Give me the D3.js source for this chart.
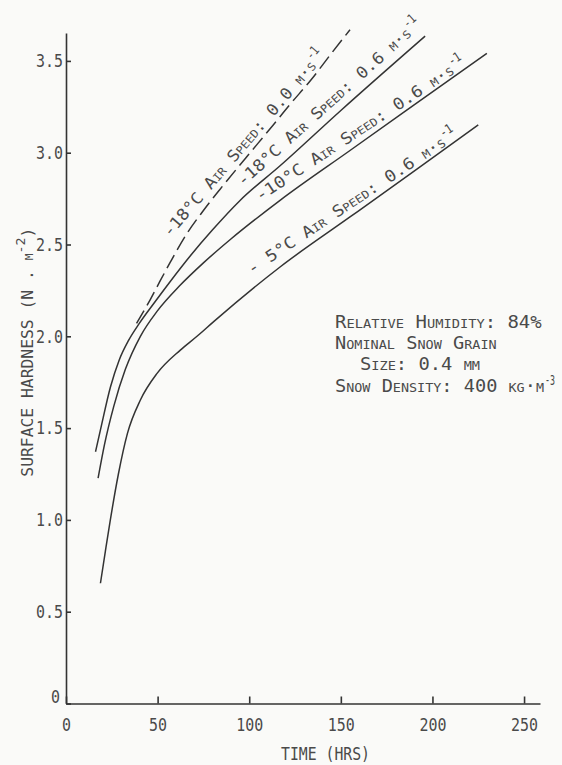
<!DOCTYPE html>
<html><head><meta charset="utf-8">
<script src="https://cdn.jsdelivr.net/npm/d3@7"></script>
<style>
html,body{margin:0;padding:0;background:#fafaf8;}
svg{display:block;}
text{font-family:"DejaVu Sans Mono","Liberation Mono",monospace;fill:#4a4a4a;}
</style></head><body>
<svg id="chart" width="562" height="765"></svg>
<script>
// ---------- data ----------
// -18 °C, air speed 0.0 m/s (dashed)
const timeD = [38.5, 46, 51.3, 57, 66, 75, 84, 98, 113, 122, 134, 144, 155];
const hardD = [2.07, 2.2, 2.30, 2.405, 2.56, 2.685, 2.80, 2.97, 3.15, 3.26, 3.40, 3.53, 3.67];
// -18 °C, air speed 0.6 m/s
const timeA = [16.1, 18.8, 24.3, 29, 34, 40, 48, 57, 68, 80, 95, 117, 150, 196];
const hardA = [1.371, 1.49, 1.725, 1.87, 1.975, 2.07, 2.18, 2.30, 2.44, 2.58, 2.74, 2.93, 3.23, 3.635];
// -10 °C, air speed 0.6 m/s
const timeB = [17.5, 21, 26.1, 32.4, 40.6, 50, 62, 75, 90, 117, 155, 190, 229.7];
const hardB = [1.227, 1.41, 1.62, 1.82, 2.0, 2.14, 2.275, 2.40, 2.53, 2.742, 3.012, 3.26, 3.541];
// -5 °C, air speed 0.6 m/s
const timeC = [18.8, 21.5, 24.2, 28.6, 33.5, 40.6, 49.7, 62.4, 71.5, 80.6, 117, 155, 190, 225];
const hardC = [0.655, 0.83, 1.0, 1.25, 1.47, 1.653, 1.798, 1.925, 2.0, 2.08, 2.379, 2.65, 2.90, 3.151];

const seriesLabels = ["-18°C Air Speed: 0.0 m·s", "-18°C Air Speed: 0.6 m·s", "-10°C Air Speed: 0.6 m·s", "- 5°C Air Speed: 0.6 m·s"];
const seriesLabelSup = ["-1", "-1", "-1", "-1"];
const xTicks = [0, 50, 100, 150, 200, 250];
const yTicks = [0, 0.5, 1.0, 1.5, 2.0, 2.5, 3.0, 3.5];
const xTitle = "TIME (HRS)";
const noteLines = ["Relative Humidity:  84%", "Nominal Snow Grain", "Size:  0.4 mm", "Snow Density:  400 kg·m"];
const noteSup = "-3";

// ---------- layout ----------
const svg = d3.select("#chart");
const x = d3.scaleLinear().domain([0, 258.7]).range([66, 540]);
const y = d3.scaleLinear().domain([0, 3.652]).range([703.5, 33]);
const ink = "#333";

// axes
const gx = svg.append("g").attr("transform", `translate(0,${y(0)})`)
  .call(d3.axisBottom(x).tickValues(xTicks).tickSize(-7).tickSizeOuter(0).tickPadding(15).tickFormat(d3.format("d")));
const gy = svg.append("g").attr("transform", `translate(${x(0)},0)`)
  .call(d3.axisLeft(y).tickValues(yTicks).tickSize(-5).tickSizeOuter(0).tickPadding(3)
    .tickFormat(d => d === 0 ? "0" : d3.format(".1f")(d)));
[gx, gy].forEach(g => {
  g.select(".domain").attr("stroke", ink).attr("stroke-width", 1.6);
  g.selectAll(".tick line").attr("stroke", ink).attr("stroke-width", 1.6);
  g.selectAll(".tick text").attr("font-size", 18).attr("fill", "#555")
    .style("font-family", '"DejaVu Sans Mono", monospace')
    .attr("lengthAdjust", "spacingAndGlyphs")
    .each(function () { d3.select(this).attr("textLength", this.textContent.length * 9); });
});
gy.selectAll(".tick text").filter(d => d === 0).attr("x", -6).attr("dy", "-0.05em");

// axis titles
svg.append("text").attr("x", 281).attr("y", 760).attr("font-size", 18)
  .attr("textLength", 89).attr("lengthAdjust", "spacingAndGlyphs").text(xTitle);
const yt = svg.append("text").attr("transform", "translate(33,476.7) rotate(-90)")
  .attr("font-size", 16).attr("textLength", 249).attr("lengthAdjust", "spacingAndGlyphs");
yt.append("tspan").text("SURFACE HARDNESS (N . ");
yt.append("tspan").style("font-variant", "small-caps").text("m");
yt.append("tspan").attr("dy", -8).attr("font-size", 13).text("-2");
yt.append("tspan").attr("dy", 8).text(")");

// curves
const line = d3.line().x(d => x(d[0])).y(d => y(d[1])).curve(d3.curveMonotoneX);
const series = [
  {t: timeD, v: hardD, dash: "15,6"},
  {t: timeA, v: hardA, dash: null},
  {t: timeB, v: hardB, dash: null},
  {t: timeC, v: hardC, dash: null}
];
series.forEach(s => {
  svg.append("path").datum(d3.zip(s.t, s.v)).attr("d", line)
    .attr("fill", "none").attr("stroke", ink).attr("stroke-width", 1.5)
    .attr("stroke-dasharray", s.dash);
});

// curve labels (start and end of baseline, in data units)
const labelPlace = [
  [[56.8, 2.535], [137, 3.47]],
  [[96.6, 2.813], [188.9, 3.641]],
  [[105.9, 2.733], [212.3, 3.433]],
  [[101.4, 2.334], [207.8, 3.042]]
];
seriesLabels.forEach((txt, i) => {
  const [p0, p1] = labelPlace[i];
  const x0 = x(p0[0]), y0 = y(p0[1]), x1 = x(p1[0]), y1 = y(p1[1]);
  const ang = Math.atan2(y1 - y0, x1 - x0) * 180 / Math.PI;
  const len = Math.hypot(x1 - x0, y1 - y0);
  const g = svg.append("g").attr("transform", `translate(${x0},${y0}) rotate(${ang})`);
  g.append("text").attr("font-size", 16).style("font-variant", "small-caps")
    .attr("textLength", len).attr("lengthAdjust", "spacingAndGlyphs").text(txt);
  g.append("text").attr("x", len + 1).attr("y", -8).attr("font-size", 13)
    .attr("textLength", 13).attr("lengthAdjust", "spacingAndGlyphs").text(seriesLabelSup[i]);
});

// note block
const notePos = [[335, 328.3, 206.7], [335, 349.3, 161.7], [360, 370, 120], [335, 391.7, 209]];
noteLines.forEach((txt, i) => {
  const [nx, ny, nl] = notePos[i];
  svg.append("text").attr("x", nx).attr("y", ny).attr("font-size", 18)
    .style("font-variant", "small-caps")
    .attr("textLength", nl).attr("lengthAdjust", "spacingAndGlyphs").text(txt);
});
svg.append("text").attr("x", 545).attr("y", 385).attr("font-size", 14)
  .attr("textLength", 10).attr("lengthAdjust", "spacingAndGlyphs").text(noteSup);
</script>
</body></html>
